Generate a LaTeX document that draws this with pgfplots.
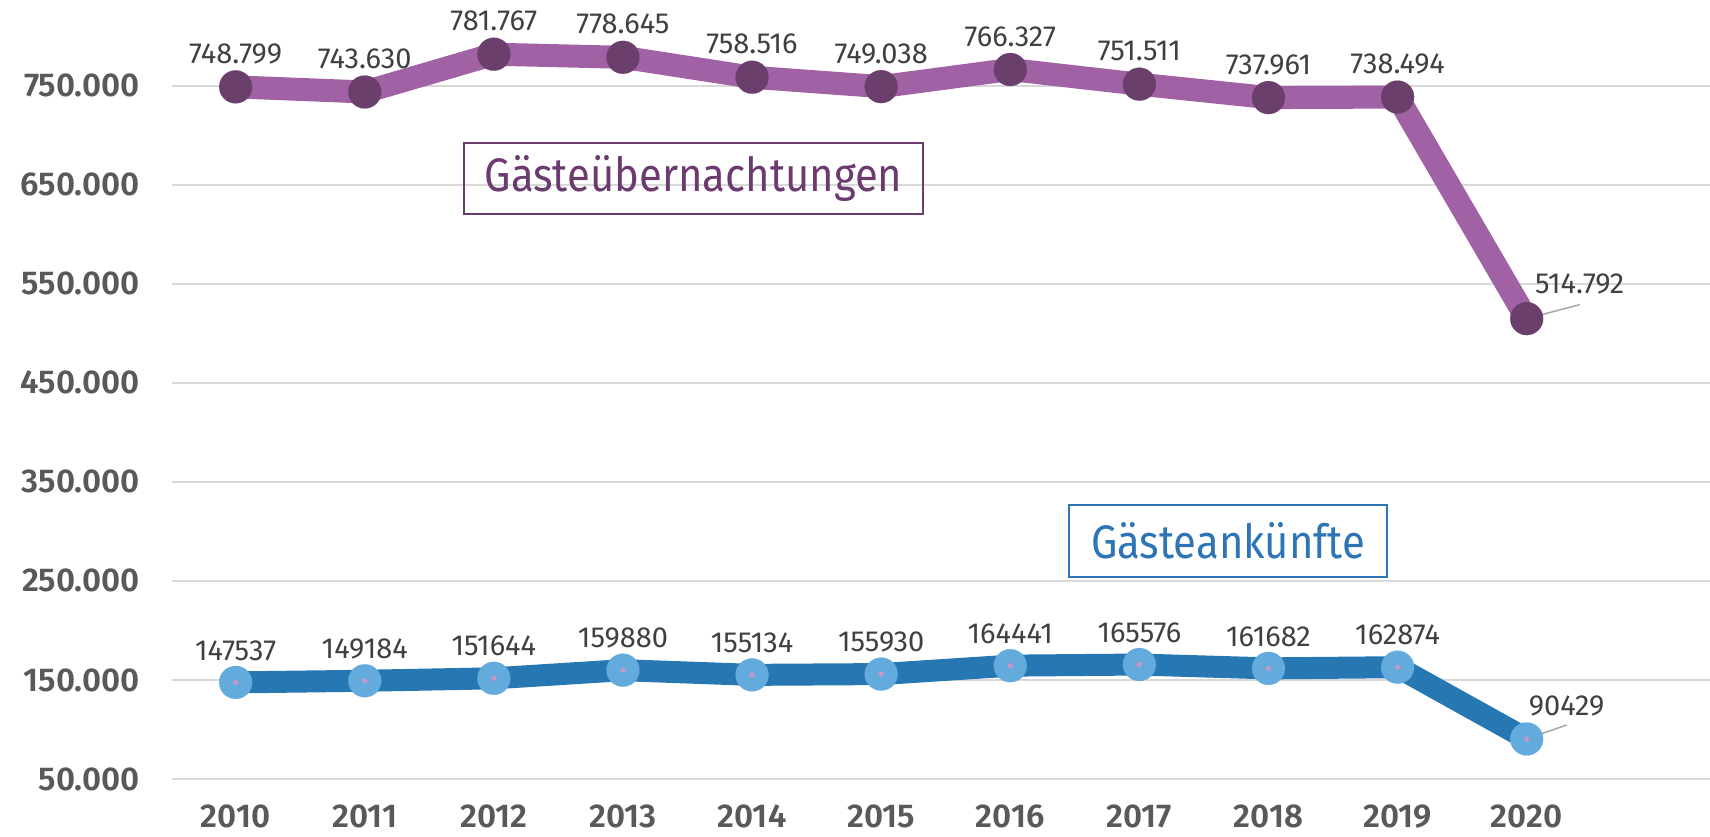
\documentclass[border=0pt]{standalone}
\usepackage{fontspec}
\setmainfont{Fira Sans}
\newfontfamily\legfont[FakeStretch=0.89]{Fira Sans}
\newfontfamily\tickfont{Fira Sans SemiBold}
\usepackage{pgfplots}
\pgfplotsset{compat=1.18}
\usepackage{pgfplotstable}
\definecolor{purpleline}{HTML}{A062A5}
\definecolor{purplemark}{HTML}{6A3F6B}
\definecolor{purpletext}{HTML}{6B3A6E}
\definecolor{blueline}{HTML}{2778B2}
\definecolor{bluemark}{HTML}{63AADD}
\definecolor{blueborder}{HTML}{2E75B6}
\definecolor{pinkdot}{HTML}{C896C8}
\definecolor{gridgray}{HTML}{D9D9D9}
\definecolor{ticklab}{HTML}{595959}
\definecolor{labelgray}{HTML}{404040}
\definecolor{leadergray}{HTML}{A6A6A6}

\pgfplotstableread{
year val label
2010 748799 748.799
2011 743630 743.630
2012 781767 781.767
2013 778645 778.645
2014 758516 758.516
2015 749038 749.038
2016 766327 766.327
2017 751511 751.511
2018 737961 737.961
2019 738494 738.494
2020 514792 514.792
}\purpdata

\pgfplotstableread{
year val label
2010 147537 147537
2011 149184 149184
2012 151644 151644
2013 159880 159880
2014 155134 155134
2015 155930 155930
2016 164441 164441
2017 165576 165576
2018 161682 161682
2019 162874 162874
2020 90429 90429
}\bluedata

\begin{document}
\begin{tikzpicture}
\useasboundingbox (0,0) rectangle (1710pt,836pt);
\begin{axis}[
  at={(172pt,57pt)}, anchor=south west,
  scale only axis, width=1538pt, height=779pt,
  xmin=2009.507, xmax=2021.42, ymin=50000, ymax=836500,
  clip=false,
  axis line style={draw=none},
  major tick length=0pt,
  tick style={draw=none},
  ymajorgrids, grid style={draw=gridgray, line width=2pt},
  scaled ticks=false,
  ytick={50000,150000,250000,350000,450000,550000,650000,750000},
  yticklabels={50.000,150.000,250.000,350.000,450.000,550.000,650.000,750.000},
  xtick={2010,2011,2012,2013,2014,2015,2016,2017,2018,2019,2020},
  xticklabels={2010,2011,2012,2013,2014,2015,2016,2017,2018,2019,2020},
  yticklabel style={font=\tickfont\fontsize{33}{40}\selectfont, text=ticklab, anchor=east, inner sep=0pt, xshift=-32pt},
  xticklabel style={font=\tickfont\fontsize{33}{40}\selectfont, text=ticklab, anchor=north, inner sep=0pt, yshift=-26pt},
]
% Gaesteuebernachtungen
\addplot[purpleline, line width=23pt, line join=round, mark=*, mark size=16.5pt,
  mark options={line width=0.1pt, fill=purplemark, draw=purplemark}] table[x=year, y=val] {\purpdata};
\addplot[draw=none, mark=none, point meta=explicit symbolic, nodes near coords,
  every node near coord/.append style={font=\fontsize{29}{35}\selectfont, text=labelgray, anchor=center, yshift=33pt, inner sep=0pt}]
  table[x=year, y=val, meta=label, skip coords between index={10}{11}] {\purpdata};
% Gaesteankuenfte
\addplot[blueline, line width=22pt, line join=round, mark=*, mark size=16.5pt,
  mark options={line width=0.1pt, fill=bluemark, draw=bluemark}] table[x=year, y=val] {\bluedata};
\addplot[only marks, mark=*, mark size=2.5pt, mark options={line width=0.1pt, fill=pinkdot, draw=pinkdot}]
  table[x=year, y=val] {\bluedata};
\addplot[draw=none, mark=none, point meta=explicit symbolic, nodes near coords,
  every node near coord/.append style={font=\fontsize{29}{35}\selectfont, text=labelgray, anchor=center, yshift=32pt, inner sep=0pt}]
  table[x=year, y=val, meta=label, skip coords between index={10}{11}] {\bluedata};
% 2020 labels with leader lines
\draw[leadergray, line width=1.5pt] (axis cs:2020,514792) -- ++(53pt,14pt);
\path (axis cs:2020,514792) ++(53pt,24pt) node[anchor=south, inner sep=0pt, text=labelgray, font=\fontsize{29}{35}\selectfont] {514.792};
\draw[leadergray, line width=1.5pt] (axis cs:2020,90429) -- ++(40pt,14pt);
\path (axis cs:2020,90429) ++(40pt,23pt) node[anchor=south, inner sep=0pt, text=labelgray, font=\fontsize{29}{35}\selectfont] {90429};
\end{axis}
\node[draw=purpletext, line width=2pt, minimum width=459pt, minimum height=71pt, inner sep=0pt,
  text=purpletext, font=\legfont\fontsize{47}{56}\selectfont] at (693.5pt,657.5pt) {Gästeübernachtungen};
\node[draw=blueborder, line width=2pt, minimum width=318pt, minimum height=72pt, inner sep=0pt,
  text=blueborder, font=\legfont\fontsize{47}{56}\selectfont] at (1228pt,295pt) {Gästeankünfte};
\end{tikzpicture}
\end{document}
